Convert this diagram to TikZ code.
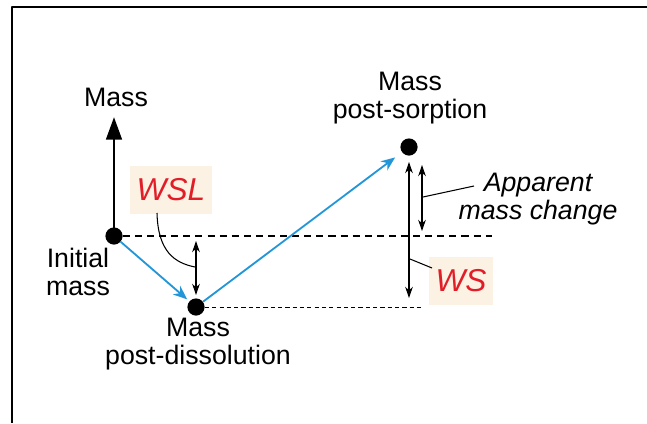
\documentclass[tikz,border=0pt]{standalone}
\usepackage{fontspec}
\setmainfont{Liberation Sans}
\usetikzlibrary{arrows.meta}
\definecolor{flowblue}{RGB}{35,150,215}
\definecolor{wsred}{RGB}{225,30,40}
\definecolor{tagbg}{RGB}{251,242,228}
\begin{document}
\begin{tikzpicture}[x=0.025cm, y=-0.025cm, font=\fontsize{19}{19.8}\selectfont, line join=round,
dot/.style={circle, fill=black, inner sep=0pt, minimum size=0.43cm},
lbl/.style={align=center, inner sep=1pt},
tag/.style={fill=tagbg, text=wsred, font=\fontsize{22.5}{24}\selectfont\itshape, minimum height=1.2cm, inner sep=1pt},
flow/.style={flowblue, line width=1.3pt, -{Stealth[length=10pt,width=8pt]}},
span/.style={line width=0.8pt, {Stealth[length=8pt,width=5.5pt]}-{Stealth[length=8pt,width=5.5pt]}},
lead/.style={line width=0.75pt}]
\useasboundingbox (0,0) rectangle (647,423);
\draw[line width=1.1pt] (647,7) -- (12,7) -- (12,423);
% the three masses
\node[dot] (init) at (114,236) {};
\node[dot] (dis) at (196,307) {};
\node[dot] (sorp) at (409,147) {};
\node[lbl] (axis) at (116,97) {Mass};
\node[lbl] (initlbl) at (78,272) {Initial\\mass};
\node[lbl] (dislbl) at (198,344) {Mass\\post-dissolution};
\node[lbl] (sorplbl) at (410,98) {Mass\\post-sorption};
\node[lbl, font=\fontsize{19}{19.8}\selectfont\itshape] (applbl) at (538,199) {Apparent\\mass change};
\node[tag, minimum width=2.05cm] (wsl) at (171,190) {WSL};
\node[tag, minimum width=1.58cm] (ws) at (461,281) {WS};
% levels
\coordinate (axtip) at (114,117);
\coordinate (lvl) at (492,236);
\coordinate (dlvl) at (423,307);
\draw[line width=2.1pt, -{Triangle[length=16pt,width=11pt]}] (init.center) -- (axtip);
\draw[line width=1.4pt, dash pattern=on 5pt off 3.6pt] (init.east) -- (lvl);
\draw[line width=0.7pt, dash pattern=on 3pt off 2.2pt] (dis.east) -- (dlvl);
\draw[flow, shorten >=2pt] (init) -- (dis);
\draw[flow, shorten >=6pt] (dis) -- (sorp);
% differences
\draw[span] (196,241) -- (196,295);
\draw[span] (409,162) -- (409,298);
\draw[span] (422,165) -- (422,231);
\draw[lead] (157,213) .. controls (158,252) and (175,263) .. (195,267);
\draw[lead] (410,259) -- (432,268);
\draw[lead] (423,197) -- (474,186);
\end{tikzpicture}
\end{document}
